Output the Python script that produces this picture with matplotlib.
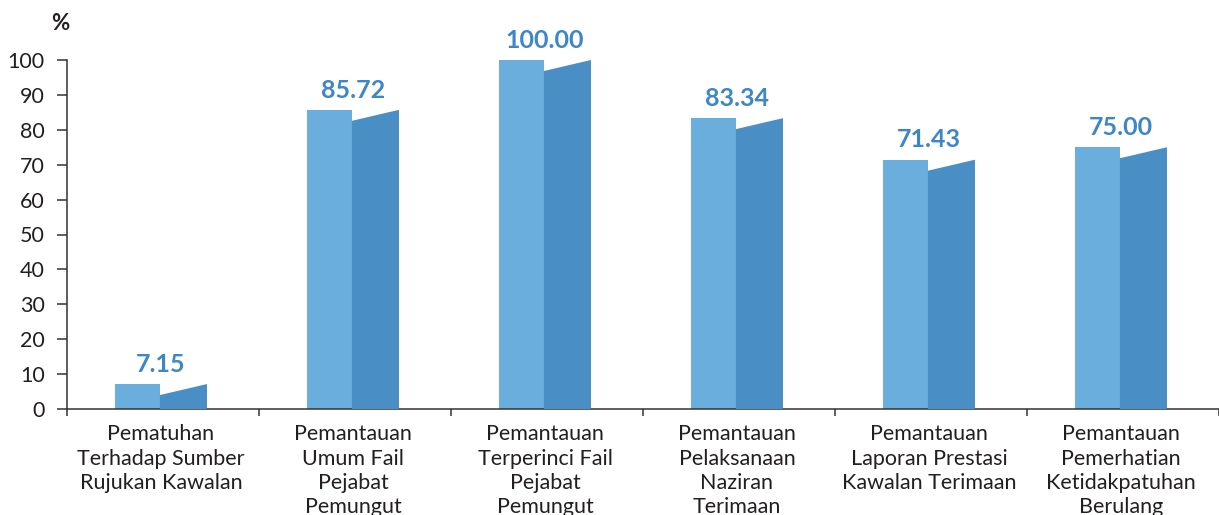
import numpy as np
import matplotlib
matplotlib.use("Agg")
import matplotlib.pyplot as plt
from matplotlib.patches import Polygon
from matplotlib.transforms import blended_transform_factory

categories = [
    "Pematuhan\nTerhadap Sumber\nRujukan Kawalan",
    "Pemantauan\nUmum Fail\nPejabat\nPemungut",
    "Pemantauan\nTerperinci Fail\nPejabat\nPemungut",
    "Pemantauan\nPelaksanaan\nNaziran\nTerimaan",
    "Pemantauan\nLaporan Prestasi\nKawalan Terimaan",
    "Pemantauan\nPemerhatian\nKetidakpatuhan\nBerulang",
]
values = [7.15, 85.72, 100.00, 83.34, 71.43, 75.00]
value_labels = ["7.15", "85.72", "100.00", "83.34", "71.43", "75.00"]
yticks = [0, 10, 20, 30, 40, 50, 60, 70, 80, 90, 100]

LIGHT = "#6aaedd"
DARK = "#4a8ec6"
LABEL = "#3d86c8"
TEXT = "#231f20"
AXIS = "#333333"

plt.rcParams['font.family'] = ['Lato', 'DejaVu Sans']

fig = plt.figure(figsize=(12.19, 5.15), dpi=100)
ax = fig.add_axes([67/1219, 106/515, 1 - 67/1219, 349/515])
ax.set_xlim(0, 6)
ax.set_ylim(0, 100)

n = len(values)
left0, mid0, right0 = 0.25, 0.484, 0.729
slant = 3.15
for i, v in enumerate(values):
    ax.bar(i + left0, v, width=mid0 - left0, align='edge', color=LIGHT,
           edgecolor='none', zorder=2)
    poly = Polygon([(i + mid0, 0), (i + right0, 0), (i + right0, v),
                    (i + mid0, max(v - slant, 0))], closed=True,
                   facecolor=DARK, edgecolor='none', zorder=3)
    ax.add_patch(poly)
    ax.annotate(value_labels[i], xy=(i + (left0 + right0) / 2, v),
                xytext=(0, 6), textcoords='offset points',
                ha='center', va='bottom', fontsize=18, fontweight='bold',
                color=LABEL, annotation_clip=False)

trans = blended_transform_factory(ax.transData, ax.transAxes)
for i, c in enumerate(categories):
    ax.annotate(c, xy=(i + (left0 + right0) / 2, 0), xycoords=trans,
                xytext=(0, -11), textcoords='offset points',
                ha='center', va='top', fontsize=15.5, color=TEXT,
                linespacing=1.27, annotation_clip=False)

ax.set_yticks(yticks)
ax.set_yticklabels([str(t) for t in yticks])
ax.set_xticks(np.arange(0, n + 1))
ax.set_xticklabels([])
ax.tick_params(axis='y', direction='out', length=7, width=1.1, color=AXIS,
               labelsize=15.5, labelcolor=TEXT, pad=9)
ax.tick_params(axis='x', direction='out', length=5, width=1.1, color=AXIS)

for s in ['top', 'right']:
    ax.spines[s].set_visible(False)
for s in ['left', 'bottom']:
    ax.spines[s].set_color(AXIS)
    ax.spines[s].set_linewidth(1.1)

fig.text(60/1219, 1 - 24/515, "%", ha='center', va='center', fontsize=16,
         fontweight='bold', color=TEXT)

fig.savefig("out.png", dpi=100)
